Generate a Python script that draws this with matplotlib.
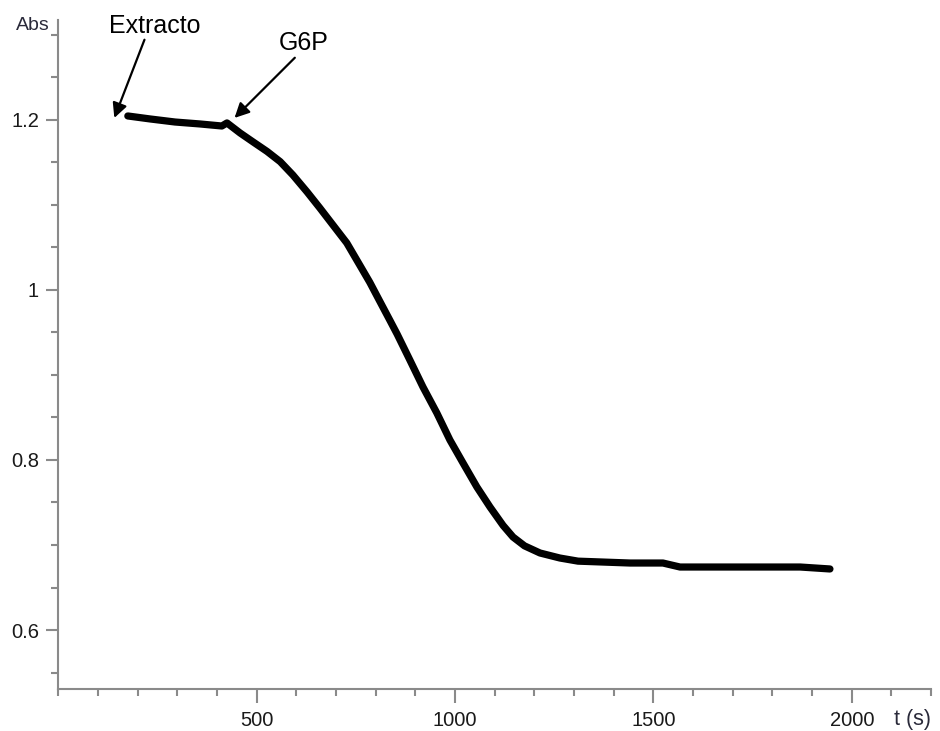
import matplotlib
matplotlib.use("Agg")
import matplotlib.pyplot as plt
from matplotlib.ticker import MultipleLocator

# Data
time_s = [175, 231, 294, 357, 412, 425, 458, 491, 526, 559, 591, 627, 659, 692,
          727, 760, 785, 811, 836, 854, 886, 919, 954, 987, 1020, 1055, 1088,
          1121, 1146, 1175, 1214, 1264, 1310, 1441, 1524, 1567, 1870, 1945]
absorbance = [1.2047, 1.2012, 1.1976, 1.1953, 1.1929, 1.1965, 1.1847, 1.1741,
              1.1630, 1.1510, 1.1353, 1.1153, 1.0965, 1.0765, 1.0553, 1.0290,
              1.0090, 0.9860, 0.9640, 0.9480, 0.9176, 0.8859, 0.8553, 0.8235,
              0.7965, 0.7682, 0.7447, 0.7230, 0.7094, 0.6990, 0.6906, 0.6847,
              0.6810, 0.6788, 0.6788, 0.6741, 0.6741, 0.6718]

x_major = [500, 1000, 1500, 2000]
y_major = [0.6, 0.8, 1.0, 1.2]
y_labels = ["0.6", "0.8", "1", "1.2"]

annotations = [
    ("Extracto", (141, 1.2024), (217, 1.2944), (242, 1.3027)),
    ("G6P", (444, 1.2024), (596, 1.2732), (619, 1.2826)),
]

W, H = 940, 731
fig = plt.figure(figsize=(W / 100, H / 100), dpi=100)
ax = fig.add_axes([58.4 / W, 1 - 689 / H, (931.1 - 58.4) / W, (689 - 20) / H])

ax.plot(time_s, absorbance, color="black", lw=5.2, solid_capstyle="round",
        solid_joinstyle="round")

ax.set_xlim(0, 2200)
ax.set_ylim(0.5306, 1.3176)

spine_col = "#8a8a8a"
for s in ["top", "right"]:
    ax.spines[s].set_visible(False)
for s in ["left", "bottom"]:
    ax.spines[s].set_color(spine_col)
    ax.spines[s].set_linewidth(1.5)

ax.set_xticks(x_major)
ax.set_xticklabels([str(v) for v in x_major])
ax.xaxis.set_minor_locator(MultipleLocator(100))
ax.set_yticks(y_major)
ax.set_yticklabels(y_labels)
ax.yaxis.set_minor_locator(MultipleLocator(0.05))

ax.tick_params(axis="x", which="major", length=10, width=1.5, color=spine_col,
               pad=6, labelcolor="#1a1a1a", labelsize=14.5)
ax.tick_params(axis="x", which="minor", length=5, width=1.5, color=spine_col)
ax.tick_params(axis="y", which="major", length=9, width=1.5, color=spine_col,
               pad=5, labelcolor="#1a1a1a", labelsize=14.5)
ax.tick_params(axis="y", which="minor", length=5, width=1.5, color=spine_col)
for lab in ax.get_xticklabels() + ax.get_yticklabels():
    lab.set_fontfamily("Liberation Sans")

fig.text(33 / W, 1 - 25 / H, "Abs", ha="center", va="center",
         fontsize=14, family="Liberation Sans", color="#2a2a3a")
fig.text(913 / W, 1 - 719 / H, "t (s)", ha="center", va="center",
         fontsize=15.5, family="Liberation Sans", color="#2a2a3a")

for label, tip, tail, txt in annotations:
    ax.annotate("", xy=tip, xytext=tail, annotation_clip=False,
                arrowprops=dict(arrowstyle="-|>", color="black", lw=1.6,
                                mutation_scale=22, shrinkA=0, shrinkB=0))
    ax.text(txt[0], txt[1], label, ha="center", va="baseline", fontsize=18,
            family="Liberation Sans", color="black", clip_on=False)

fig.savefig("out.png", dpi=100, facecolor="white")
